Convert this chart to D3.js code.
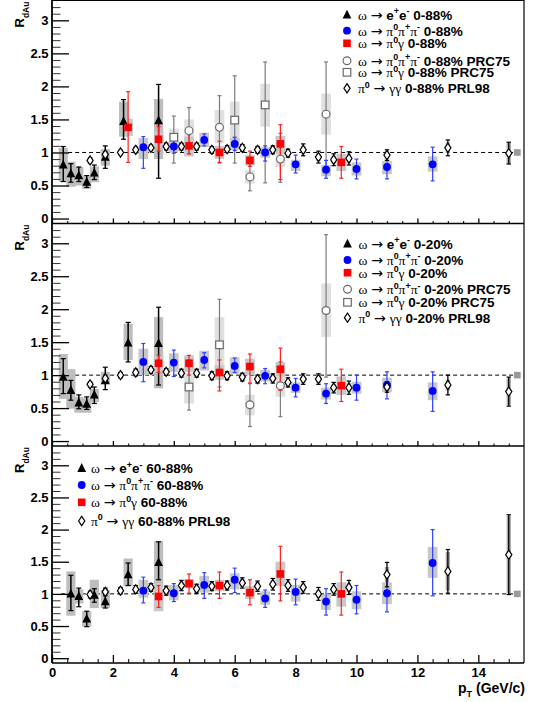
<!DOCTYPE html>
<html><head><meta charset="utf-8">
<script src="https://cdn.jsdelivr.net/npm/d3@7"></script>
<style>body{margin:0;background:#fff}svg{display:block}text{white-space:pre}</style>
</head><body>
<svg id="c" width="534" height="702"></svg>
<script>
// ---------- DATA: [pT, value, statLow, statHigh, sysLow, sysHigh] ----------
// Panel 1: 0-88%
const eeTop = [[0.37,0.81,0.56,1.09,0.56,1.07],[0.62,0.68,0.55,0.83,0.48,0.86],[0.88,0.65,0.56,0.78,0.50,0.78],[1.14,0.55,0.47,0.65,0.45,0.64],[1.39,0.69,0.59,0.81,0.55,0.79],[1.75,0.93,0.76,1.10,0.80,1.05],[2.35,1.47,1.20,1.80,1.24,1.77],[3.50,1.48,0.61,2.03,0.90,1.81]];
const blueTop = [[3.0,1.08,0.76,1.24,0.90,1.22],[4.0,1.09,0.99,1.19,1.00,1.18],[5.0,1.19,1.10,1.28,1.08,1.30],[6.0,1.13,1.03,1.23,1.04,1.22],[7.0,1.00,0.87,1.10,0.92,1.08],[8.0,0.82,0.69,0.96,0.72,0.89],[9.0,0.74,0.61,0.88,0.64,0.81],[10.0,0.75,0.60,0.90,0.65,0.85],[11.0,0.78,0.60,0.95,0.67,0.87],[12.5,0.82,0.57,1.08,0.71,0.94]];
const redTop = [[2.5,1.38,0.85,1.92,1.25,1.51],[3.5,1.20,1.02,1.39,1.08,1.32],[4.5,1.10,0.98,1.27,0.94,1.24],[5.5,1.00,0.85,1.17,0.90,1.10],[6.5,0.88,0.79,1.02,0.80,0.96],[7.5,1.13,0.59,1.42,0.98,1.25],[9.5,0.85,0.61,1.09,0.72,0.98]];
const prcCircleTop = [[4.5,1.33,0.98,1.68,1.14,1.50],[5.5,1.38,0.84,1.86,1.14,1.64],[6.5,0.63,0.42,0.85,0.53,0.73],[7.5,0.90,0.55,1.29,0.78,1.03],[9.0,1.58,0.75,2.37,1.27,1.89]];
const prcSquareTop = [[4.0,1.23,0.84,1.55,1.04,1.36],[6.0,1.49,0.84,2.16,1.19,1.77],[7.0,1.72,0.54,2.37,1.39,2.04]];
// PRL98 pi0: [pT, value, stat, sys]
const pi0Top = [[1.25,0.88,0.04,0.05],[1.75,0.97,0.04,0.06],[2.25,1.00,0.03,0.05],[2.75,1.04,0.04,0.06],[3.25,1.07,0.04,0.06],[3.75,1.09,0.05,0.06],[4.25,1.09,0.05,0.06],[4.75,1.09,0.05,0.06],[5.25,1.04,0.05,0.06],[5.75,1.05,0.05,0.06],[6.25,1.07,0.05,0.06],[6.75,1.04,0.05,0.06],[7.25,1.04,0.06,0.06],[7.75,0.99,0.06,0.06],[8.25,1.04,0.09,0.06],[8.75,0.93,0.09,0.06],[9.25,0.89,0.09,0.06],[9.75,0.91,0.10,0.07],[11.0,0.96,0.08,0.06],[13.0,1.07,0.12,0.08],[15.0,0.99,0.165,0.16]];

// Panel 2: 0-20%
const eeMid = [[0.37,0.97,0.72,1.25,0.64,1.32],[0.62,0.77,0.62,0.92,0.49,1.09],[0.88,0.58,0.49,0.70,0.43,0.67],[1.14,0.56,0.48,0.67,0.43,0.65],[1.39,0.70,0.57,0.82,0.59,0.79],[1.75,0.92,0.78,1.12,0.85,1.05],[2.5,1.49,1.20,1.80,1.23,1.78],[3.5,1.48,0.85,2.03,0.80,1.88]];
const blueMid = [[3.0,1.20,0.90,1.48,1.00,1.40],[4.0,1.19,0.98,1.38,1.05,1.33],[5.0,1.23,1.11,1.34,1.07,1.37],[6.0,1.14,1.04,1.26,1.02,1.27],[7.0,0.99,0.87,1.10,0.90,1.08],[8.0,0.81,0.67,0.95,0.73,0.89],[9.0,0.72,0.57,0.87,0.63,0.81],[10.0,0.81,0.62,1.00,0.72,0.90],[11.0,0.85,0.64,1.05,0.74,0.96],[12.5,0.76,0.45,1.05,0.62,0.89]];
const redMid = [[3.5,1.18,1.04,1.30,1.05,1.30],[4.5,1.18,1.00,1.30,1.05,1.30],[5.5,1.04,0.76,1.23,0.93,1.15],[6.5,1.13,0.88,1.32,1.00,1.25],[7.5,1.09,0.77,1.41,0.98,1.20],[9.5,0.84,0.60,1.09,0.70,0.98]];
const prcCircleMid = [[6.5,0.55,0.22,0.87,0.39,0.70],[7.5,0.84,0.37,1.20,0.67,1.00],[9.0,1.98,0.97,3.13,1.58,2.39]];
const prcSquareMid = [[4.5,0.82,0.47,1.23,0.57,1.03],[5.5,1.46,0.82,2.15,1.05,1.88]];
const pi0Mid = [[1.25,0.86,0.04,0.05],[1.75,0.95,0.05,0.06],[2.25,1.00,0.04,0.05],[2.75,1.04,0.05,0.06],[3.25,1.08,0.05,0.06],[3.75,1.05,0.05,0.06],[4.25,1.03,0.06,0.06],[4.75,1.03,0.06,0.06],[5.25,0.99,0.06,0.06],[5.75,0.99,0.06,0.06],[6.25,0.97,0.06,0.06],[6.75,0.94,0.06,0.06],[7.25,0.95,0.07,0.06],[7.75,0.89,0.07,0.06],[8.25,0.94,0.08,0.06],[8.75,0.94,0.08,0.06],[9.25,0.81,0.08,0.06],[9.75,0.81,0.10,0.07],[11.0,0.82,0.08,0.06],[13.0,0.85,0.15,0.08],[15.0,0.75,0.22,0.20]];

// Panel 3: 60-88%
const eeBot = [[0.62,1.00,0.74,1.29,0.66,1.35],[0.88,0.96,0.80,1.09,0.85,1.07],[1.14,0.61,0.49,0.73,0.49,0.73],[1.39,0.98,0.87,1.08,0.78,1.22],[1.75,0.88,0.78,1.06,0.78,1.06],[2.5,1.30,1.13,1.48,1.12,1.55],[3.5,1.49,1.22,1.81,1.14,1.82]];
const blueBot = [[3.0,1.05,0.86,1.26,0.94,1.22],[4.0,1.01,0.88,1.16,0.90,1.14],[5.0,1.14,0.93,1.33,1.02,1.28],[6.0,1.22,1.02,1.40,1.07,1.32],[7.0,0.93,0.79,1.06,0.83,1.04],[8.0,1.03,0.83,1.23,0.88,1.14],[9.0,0.88,0.67,1.08,0.75,0.99],[10.0,0.91,0.69,1.13,0.76,1.04],[11.0,1.01,0.72,1.29,0.84,1.18],[12.5,1.48,0.97,2.00,1.25,1.73]];
const redBot = [[3.5,0.96,0.79,1.13,0.73,1.17],[4.5,1.16,1.01,1.31,1.09,1.23],[5.5,1.13,0.93,1.34,1.04,1.22],[6.5,1.02,0.83,1.22,0.92,1.12],[7.5,1.31,0.89,1.74,1.12,1.50],[9.5,1.00,0.67,1.34,0.80,1.18]];
const pi0Bot = [[1.25,0.99,0.05,0.06],[1.75,1.03,0.06,0.06],[2.25,1.05,0.05,0.06],[2.75,1.07,0.06,0.06],[3.25,1.10,0.06,0.06],[3.75,1.05,0.07,0.06],[4.25,1.13,0.08,0.06],[4.75,1.08,0.07,0.06],[5.25,1.12,0.07,0.06],[5.75,1.13,0.07,0.06],[6.25,1.17,0.08,0.06],[6.75,1.12,0.08,0.06],[7.25,1.15,0.09,0.06],[7.75,1.13,0.09,0.06],[8.25,1.10,0.09,0.06],[8.75,1.00,0.10,0.06],[9.25,1.07,0.09,0.06],[9.75,1.10,0.11,0.07],[11.0,1.30,0.19,0.12],[13.0,1.35,0.34,0.30],[15.0,1.61,0.62,0.60]];

// normalization uncertainty box (pT position, half-height)
const normBox = [15.28, 0.05];

// tick values
const yMajorTicks = [0, 0.5, 1, 1.5, 2, 2.5, 3];
const xMajorTicks = [0, 2, 4, 6, 8, 10, 12, 14];

// legend texts
const legendTop = [["ee","ω → e^{+}e^{-} 0-88%"],["blue","ω → π^{0}π^{+}π^{-} 0-88%"],["red","ω → π^{0}γ 0-88%"],["prcC","ω → π^{0}π^{+}π^{-} 0-88% PRC75"],["prcS","ω → π^{0}γ 0-88% PRC75"],["pi0","π^{0} → γγ 0-88% PRL98"]];
const legendMid = [["ee","ω → e^{+}e^{-} 0-20%"],["blue","ω → π^{0}π^{+}π^{-} 0-20%"],["red","ω → π^{0}γ 0-20%"],["prcC","ω → π^{0}π^{+}π^{-} 0-20% PRC75"],["prcS","ω → π^{0}γ 0-20% PRC75"],["pi0","π^{0} → γγ 0-20% PRL98"]];
const legendBot = [["ee","ω → e^{+}e^{-} 60-88%"],["blue","ω → π^{0}π^{+}π^{-} 60-88%"],["red","ω → π^{0}γ 60-88%"],["pi0","π^{0} → γγ 60-88% PRL98"]];

// ---------- LAYOUT ----------
const svg = d3.select("#c");
const SANS = "Liberation Sans, Arial, Helvetica, sans-serif";
const SERIF = "Liberation Serif, DejaVu Serif, serif";
const x = d3.scaleLinear().domain([0, 15.5]).range([52, 524]);
const Y_DOM = [-0.075, 3.3];

const panels = [
  {top:0.5, bottom:223.5, ee:eeTop, blue:blueTop, red:redTop, prcC:prcCircleTop, prcS:prcSquareTop, pi0:pi0Top,
   legend:legendTop, legX:347, legTextX:358, legRows:[15,30.7,43.3,60.7,72.3,88.3], xLabels:false},
  {top:223.5, bottom:446, ee:eeMid, blue:blueMid, red:redMid, prcC:prcCircleMid, prcS:prcSquareMid, pi0:pi0Mid,
   legend:legendMid, legX:347.5, legTextX:358.5, legRows:[244,260,272.7,289.3,302.3,317.7], xLabels:false},
  {top:446, bottom:663, ee:eeBot, blue:blueBot, red:redBot, prcC:[], prcS:[], pi0:pi0Bot,
   legend:legendBot, legX:81.7, legTextX:91, legRows:[468.3,485,502.3,521], xLabels:true}
];

const styles = {
  ee:   {box:"#bdbdbd", hw:0.15, err:"#000", ew:1.5, cap:2.5},
  blue: {box:"#c8c8c8", hw:0.16, err:"#3040ff", ew:1.2, cap:2},
  red:  {box:"#c8c8c8", hw:0.16, err:"#ff2020", ew:1.2, cap:2},
  prcC: {box:"#e0e0e0", hw:0.16, err:"#7c7c7c", ew:1.2, cap:2},
  prcS: {box:"#e0e0e0", hw:0.16, err:"#7c7c7c", ew:1.2, cap:2},
  pi0:  {box:"#a8a8a8", hw:0.07, err:"#000", ew:1.3, cap:2.2}
};

function drawMarker(g, type, cx, cy) {
  if (type === "ee") {
    g.append("path").attr("d", `M${cx},${cy-5.2}L${cx+4.4},${cy+3.6}L${cx-4.4},${cy+3.6}Z`).attr("fill","#000");
  } else if (type === "blue") {
    g.append("circle").attr("cx",cx).attr("cy",cy).attr("r",3.9).attr("fill","#0000ff");
  } else if (type === "red") {
    g.append("rect").attr("x",cx-3.8).attr("y",cy-3.8).attr("width",7.6).attr("height",7.6).attr("fill","#ff0000");
  } else if (type === "prcC") {
    g.append("circle").attr("cx",cx).attr("cy",cy).attr("r",3.9).attr("fill","#fff").attr("stroke","#6a6a6a").attr("stroke-width",1.2);
  } else if (type === "prcS") {
    g.append("rect").attr("x",cx-3.8).attr("y",cy-3.8).attr("width",7.6).attr("height",7.6).attr("fill","#fff").attr("stroke","#6a6a6a").attr("stroke-width",1.2);
  } else if (type === "pi0") {
    g.append("path").attr("d", `M${cx},${cy-4.6}L${cx+3.1},${cy}L${cx},${cy+4.6}L${cx-3.1},${cy}Z`).attr("fill","#fff").attr("stroke","#000").attr("stroke-width",1.2);
  }
}

function richText(sel, str, size) {
  const parts = str.split(/(\^\{[^}]*\}|_\{[^}]*\})/).filter(s => s.length);
  let cur = 0;
  parts.forEach(p => {
    let mode = "n", txt = p;
    if (p.startsWith("^{")) { mode = "sup"; txt = p.slice(2,-1); }
    else if (p.startsWith("_{")) { mode = "sub"; txt = p.slice(2,-1); }
    if (mode === "n") {
      const runs = txt.match(/→|[ωπγ]+|[^ωπγ→]+/g) || [];
      runs.forEach(r => {
        const t = sel.append("tspan").text(r);
        if (r === "→") t.attr("font-family", "DejaVu Sans, sans-serif").attr("font-weight","normal").attr("font-size", size*1.05);
        else if (/[ωπγ]/.test(r)) t.attr("font-family", SERIF).attr("font-weight","normal").attr("font-size", size*1.0);
        if (cur !== 0) { t.attr("dy", -cur); cur = 0; }
      });
    } else {
      const target = mode === "sup" ? -size*0.42 : size*0.38;
      sel.append("tspan").text(txt).attr("font-size", size*0.66).attr("dy", target - cur);
      cur = target;
    }
  });
}

const types = ["prcC","prcS","ee","blue","red","pi0"];

panels.forEach(P => {
  const y = d3.scaleLinear().domain(Y_DOM).range([P.bottom, P.top]);
  const g = svg.append("g");

  // reference line at 1
  g.append("line").attr("x1", x(0.3)).attr("x2", x(15.15)).attr("y1", y(1)).attr("y2", y(1))
    .attr("stroke","#000").attr("stroke-width",1).attr("stroke-dasharray","4,3");

  // systematic boxes
  types.forEach(t => {
    const st = styles[t];
    const rows = P[t].map(d => t === "pi0" ? [d[0], d[1], d[1]-d[2], d[1]+d[2], d[1]-d[3], d[1]+d[3]] : d);
    g.selectAll(null).data(rows).enter().append("rect")
      .attr("x", d => x(d[0]-st.hw)).attr("width", d => x(d[0]+st.hw)-x(d[0]-st.hw))
      .attr("y", d => y(d[5])).attr("height", d => y(d[4])-y(d[5]))
      .attr("fill", st.box);
  });
  // normalization box
  g.append("rect").attr("x", x(normBox[0])-3.4).attr("width", 6.8)
    .attr("y", y(1+normBox[1])).attr("height", y(1-normBox[1])-y(1+normBox[1])).attr("fill","#9a9a9a");

  // error bars
  types.forEach(t => {
    const st = styles[t];
    const rows = P[t].map(d => t === "pi0" ? [d[0], d[1], d[1]-d[2], d[1]+d[2]] : d);
    rows.forEach(d => {
      const cx = x(d[0]);
      g.append("line").attr("x1",cx).attr("x2",cx).attr("y1",y(d[2])).attr("y2",y(d[3]))
        .attr("stroke",st.err).attr("stroke-width",st.ew);
      [d[2], d[3]].forEach(v => g.append("line").attr("x1",cx-st.cap).attr("x2",cx+st.cap)
        .attr("y1",y(v)).attr("y2",y(v)).attr("stroke",st.err).attr("stroke-width",1.2));
    });
  });

  // markers
  types.forEach(t => {
    P[t].forEach(d => drawMarker(g, t, x(d[0]), y(d[1])));
  });

  // y axis ticks
  const minor = d3.range(0, 33).map(i => i/10).filter(v => Math.abs(v*2 - Math.round(v*2)) > 1e-6);
  g.append("g").attr("transform", `translate(${x(0)},0)`)
    .call(d3.axisLeft(y).tickValues(minor).tickSizeInner(-8.5).tickSizeOuter(0).tickFormat(""))
    .call(a => a.select(".domain").remove())
    .call(a => a.selectAll("line").attr("stroke","#333").attr("stroke-width",1));
  g.append("g").attr("transform", `translate(${x(0)},0)`)
    .call(d3.axisLeft(y).tickValues(yMajorTicks).tickSizeInner(-17).tickSizeOuter(0).tickPadding(3.5).tickFormat(d => String(d)))
    .call(a => a.select(".domain").remove())
    .call(a => a.selectAll("line").attr("stroke","#000").attr("stroke-width",1.3))
    .call(a => a.selectAll("text").attr("font-family",SANS).attr("font-weight","bold").attr("font-size",13).attr("fill","#000"));

  // x axis ticks (pointing up)
  const big = P.xLabels;
  const xMinor = d3.range(0, 31).map(i => i/2).filter(v => v % 2 !== 0);
  g.append("g").attr("transform", `translate(0,${P.bottom})`)
    .call(d3.axisBottom(x).tickValues(xMinor).tickSizeInner(big ? -4 : -2.5).tickSizeOuter(0).tickFormat(""))
    .call(a => a.select(".domain").remove())
    .call(a => a.selectAll("line").attr("stroke","#222").attr("stroke-width",1.2));
  g.append("g").attr("transform", `translate(0,${P.bottom})`)
    .call(d3.axisBottom(x).tickValues(xMajorTicks).tickSizeInner(big ? -8 : -5).tickSizeOuter(0).tickPadding(5)
      .tickFormat(big ? (d => String(d)) : ""))
    .call(a => a.select(".domain").remove())
    .call(a => a.selectAll("line").attr("stroke","#000").attr("stroke-width",1.3))
    .call(a => a.selectAll("text").attr("font-family",SANS).attr("font-weight","bold").attr("font-size",13).attr("fill","#000"));

  // frame bottom line
  g.append("line").attr("x1", x(0)).attr("x2", x(15.5)).attr("y1", P.bottom).attr("y2", P.bottom)
    .attr("stroke","#000").attr("stroke-width",1.6);

  // y title R_dAu
  const yt = g.append("text").attr("transform", `translate(24,${P.top+27}) rotate(-90)`)
    .attr("font-family",SANS).attr("font-weight","bold").attr("font-size",13).attr("fill","#000");
  yt.append("tspan").text("R");
  yt.append("tspan").text("dAu").attr("font-size",8.5).attr("dy",5);

  // legend
  P.legend.forEach((L, i) => {
    const ly = P.legRows[i];
    drawMarker(g, L[0], P.legX, ly);
    const t = g.append("text").attr("x", P.legTextX).attr("y", ly + 5)
      .attr("font-family",SANS).attr("font-weight","bold").attr("font-size",13.5).attr("fill","#000");
    richText(t, L[1], 13.5);
  });
});

// frame: left, top, right
svg.append("line").attr("x1",x(0)).attr("x2",x(0)).attr("y1",0).attr("y2",663).attr("stroke","#000").attr("stroke-width",1.8);
svg.append("line").attr("x1",x(0)).attr("x2",x(15.5)).attr("y1",0.5).attr("y2",0.5).attr("stroke","#000").attr("stroke-width",1.2);
svg.append("line").attr("x1",x(15.5)).attr("x2",x(15.5)).attr("y1",0).attr("y2",663).attr("stroke","#000").attr("stroke-width",1.2);

// x title
const xt = svg.append("text").attr("x", 525).attr("y", 693).attr("text-anchor","end")
  .attr("font-family",SANS).attr("font-weight","bold").attr("font-size",14).attr("fill","#000");
xt.append("tspan").text("p");
xt.append("tspan").text("T").attr("font-size",9).attr("dy",4);
xt.append("tspan").text(" (GeV/c)").attr("dy",-4);
</script>
</body></html>
